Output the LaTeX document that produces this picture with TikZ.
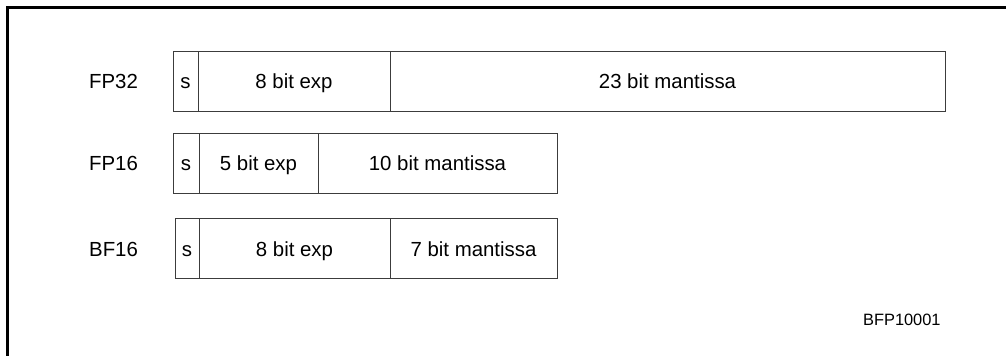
\documentclass[tikz,border=0pt]{standalone}
\usepackage{fontspec}
\setmainfont{Liberation Sans}
\usetikzlibrary{positioning}
\definecolor{fieldline}{RGB}{60,60,60}

\begin{document}
\begin{tikzpicture}[node distance=0pt, font=\fontsize{10.2}{12}\selectfont,
  every node/.style={text height=7.4pt, text depth=0pt},
  field/.style={draw=fieldline, line width=0.5pt, rectangle, minimum height=30pt, inner sep=0pt, outer sep=0pt}]
\useasboundingbox (0,0) rectangle (503pt,-178pt);
% frame
\draw[line width=1.35pt] (3.75pt,-178pt) |- (503pt,-3.6pt);

% FP32
\node[field, minimum width=12.5pt, anchor=west] (s32) at (86.5pt,-40.75pt) {s};
\node[field, minimum width=96pt, right=of s32] (e32) {8 bit exp};
\node[field, minimum width=277.5pt, right=of e32] (m32) {23 bit mantissa};
\node[left=14pt of s32] (fp32) {FP32};

% FP16
\node[field, minimum width=13pt, anchor=west] (s16) at (86.5pt,-81.75pt) {s};
\node[field, minimum width=59.5pt, right=of s16] (e16) {5 bit exp};
\node[field, minimum width=119.5pt, right=of e16] (m16) {10 bit mantissa};
\node[left=14pt of s16] (fp16) {FP16};

% BF16
\node[field, minimum width=12pt, anchor=west] (sbf) at (87.5pt,-124.5pt) {s};
\node[field, minimum width=95.5pt, right=of sbf] (ebf) {8 bit exp};
\node[field, minimum width=83.5pt, right=of ebf] (mbf) {7 bit mantissa};
\node[left=15pt of sbf] (bf16) {BF16};

\node[anchor=east, inner sep=0pt, font=\fontsize{8.2}{10}\selectfont] (tag) at (470.5pt,-159pt) {BFP10001};
\end{tikzpicture}
\end{document}
